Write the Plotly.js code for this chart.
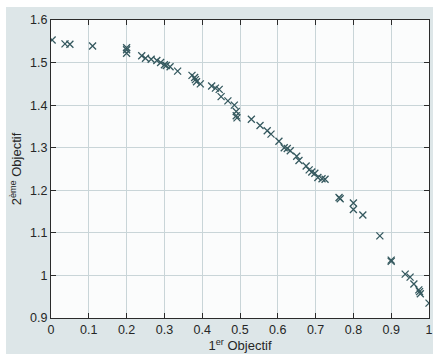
<!DOCTYPE html>
<html>
<head>
<meta charset="utf-8">
<script src="https://cdn.plot.ly/plotly-3.0.1.min.js"></script>
<style>
html,body{margin:0;padding:0;background:#ffffff;overflow:hidden;}
#chart{position:absolute;left:6px;top:7px;width:427px;height:347px;}
</style>
</head>
<body>
<div id="chart"></div>
<script>
const obj1 = [0.003,0.037,0.05,0.11,0.2,0.2,0.2,0.24,0.25,0.265,0.28,0.29,0.3,0.305,0.315,0.335,0.373,0.38,0.382,0.385,0.395,0.425,0.435,0.445,0.45,0.468,0.485,0.49,0.49,0.492,0.53,0.553,0.572,0.582,0.603,0.617,0.625,0.633,0.65,0.656,0.675,0.683,0.69,0.698,0.706,0.717,0.725,0.762,0.765,0.8,0.8,0.825,0.87,0.9,0.9,0.937,0.95,0.96,0.973,0.975,0.977,1.0];
const obj2 = [1.553,1.544,1.543,1.539,1.535,1.53,1.522,1.516,1.51,1.508,1.505,1.5,1.495,1.493,1.49,1.48,1.47,1.465,1.46,1.455,1.45,1.445,1.44,1.437,1.42,1.41,1.4,1.385,1.375,1.37,1.367,1.352,1.34,1.332,1.315,1.3,1.298,1.293,1.28,1.27,1.257,1.248,1.243,1.24,1.23,1.227,1.226,1.183,1.18,1.17,1.155,1.142,1.093,1.036,1.033,1.003,0.996,0.98,0.966,0.962,0.957,0.935];
const xTicks = [0,0.1,0.2,0.3,0.4,0.5,0.6,0.7,0.8,0.9,1];
const xTickText = ['0','0.1','0.2','0.3','0.4','0.5','0.6','0.7','0.8','0.9','1'];
const yTicks = [0.9,1,1.1,1.2,1.3,1.4,1.5,1.6];
const yTickText = ['0.9','1','1.1','1.2','1.3','1.4','1.5','1.6'];

const trace = {
  x: obj1, y: obj2, type: 'scatter', mode: 'markers',
  marker: {symbol: 'x-thin', size: 7, line: {width: 1.3, color: '#35595f'}, color: '#35595f'},
  hoverinfo: 'skip'
};
const axisCommon = {
  showline: true, linecolor: '#2b2b2b', linewidth: 1, mirror: 'ticks',
  ticks: 'inside', ticklen: 5, tickcolor: '#2b2b2b', tickwidth: 1,
  showgrid: true, gridcolor: '#c9d5d8', gridwidth: 1, zeroline: false,
  tickfont: {family: 'Liberation Sans, Arial, sans-serif', size: 12.5, color: '#262626'},
  tickmode: 'array'
};
const layout = {
  width: 427, height: 347,
  margin: {l: 45, r: 4, t: 13, b: 36},
  paper_bgcolor: '#dde6e8', plot_bgcolor: '#fbfcfc',
  showlegend: false,
  xaxis: Object.assign({}, axisCommon, {
    range: [0, 1], tickvals: xTicks, ticktext: xTickText,
    title: {text: '1<sup>er</sup> Objectif', standoff: 4,
      font: {family: 'Liberation Sans, Arial, sans-serif', size: 13, color: '#262626'}}
  }),
  yaxis: Object.assign({}, axisCommon, {
    range: [0.9, 1.6], tickvals: yTicks, ticktext: yTickText,
    title: {text: '2<sup>ème</sup> Objectif', standoff: 5,
      font: {family: 'Liberation Sans, Arial, sans-serif', size: 13, color: '#262626'}}
  })
};
Plotly.newPlot('chart', [trace], layout, {staticPlot: true, displayModeBar: false});
</script>
</body>
</html>
